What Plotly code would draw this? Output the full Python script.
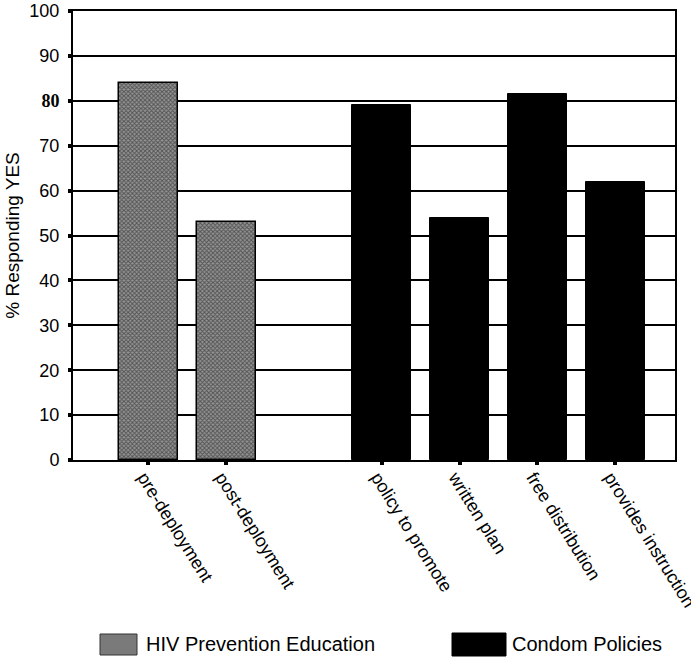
import plotly.graph_objects as go

# ---- data ----
hiv_categories = ["pre-deployment", "post-deployment"]
hiv_values = [84, 53]
condom_categories = ["policy to promote", "written plan", "free distribution", "provides instruction"]
condom_values = [79, 54, 81.5, 62]
y_tick_values = [0, 10, 20, 30, 40, 50, 60, 70, 80, 90, 100]
y_tick_labels = ["0", "10", "20", "30", "40", "50", "60", "70", "80", "90", "100"]
legend_names = ["HIV Prevention Education", "Condom Policies"]

# slot positions: one empty slot between the groups
hiv_x = [i + 1 for i in range(len(hiv_categories))]
condom_x = [len(hiv_categories) + 2 + i for i in range(len(condom_categories))]

FONT = "Arial, Liberation Sans, sans-serif"

fig = go.Figure()
fig.add_trace(go.Bar(
    x=hiv_x, y=hiv_values, name=legend_names[0], width=0.76,
    marker=dict(color="#808080", line=dict(color="black", width=1.5),
                pattern=dict(shape="x", fgcolor="#111111", bgcolor="#959595",
                             size=3, solidity=0.55)),
    showlegend=False,
))
fig.add_trace(go.Bar(
    x=condom_x, y=condom_values, name=legend_names[1], width=0.76,
    marker=dict(color="black", line=dict(color="black", width=1)),
    showlegend=False,
))

ticktext = []
for t in y_tick_labels:
    if t == "80":
        ticktext.append("<b><span style='font-family:Liberation Serif, Times New Roman, serif'>80</span></b>")
    else:
        ticktext.append(t)

fig.update_layout(
    width=691, height=661,
    margin=dict(l=73, r=16, t=11, b=201),
    paper_bgcolor="white", plot_bgcolor="white",
    font=dict(family=FONT, color="black", size=18),
    bargap=0,
    xaxis=dict(
        range=[0.03, 7.77],
        tickmode="array", tickvals=hiv_x + condom_x,
        ticktext=hiv_categories + condom_categories,
        tickangle=58, tickfont=dict(size=18, family=FONT),
        ticks="outside", ticklen=3, tickwidth=4, tickcolor="black",
        ticklabeloverflow="allow", ticklabelstandoff=-5, ticklabelshift=-4,
        showline=True, linecolor="black", linewidth=2, mirror=True,
        showgrid=False, zeroline=False, automargin=False,
    ),
    yaxis=dict(
        range=[0, 100],
        tickmode="array", tickvals=y_tick_values, ticktext=ticktext,
        tickfont=dict(size=18, family=FONT),
        ticks="outside", ticklen=3, tickwidth=4, tickcolor="black",
        ticklabelstandoff=5,
        showline=True, linecolor="black", linewidth=2, mirror=True,
        showgrid=True, gridcolor="black", gridwidth=1.6,
        zeroline=False, automargin=False,
        title=dict(text="% Responding YES", font=dict(size=19, family=FONT), standoff=5),
    ),
)

# custom legend (large swatches as in the original)
fig.add_shape(type="rect", xref="paper", yref="paper",
              x0=(100 - 73) / 602, x1=(137 - 73) / 602,
              y0=-(634 - 460) / 449, y1=-(655 - 460) / 449,
              fillcolor="#7a7a7a", line=dict(color="#333", width=1))
fig.add_annotation(xref="paper", yref="paper", x=(144 - 73) / 602, y=-(644 - 460) / 449,
                   text=legend_names[0], showarrow=False, xanchor="left", yanchor="middle",
                   font=dict(size=20, family=FONT))
fig.add_shape(type="rect", xref="paper", yref="paper",
              x0=(452 - 73) / 602, x1=(506 - 73) / 602,
              y0=-(633 - 460) / 449, y1=-(656 - 460) / 449,
              fillcolor="black", line=dict(color="black", width=1))
fig.add_annotation(xref="paper", yref="paper", x=(510 - 73) / 602, y=-(644 - 460) / 449,
                   text=legend_names[1], showarrow=False, xanchor="left", yanchor="middle",
                   font=dict(size=20, family=FONT))

fig.write_html("out.html", config={"displayModeBar": False},
               post_script="document.body.style.margin='0';document.body.style.padding='0';document.body.style.overflow='hidden';")
